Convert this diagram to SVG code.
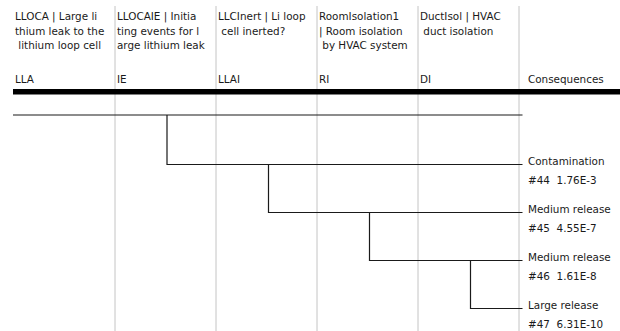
<svg xmlns="http://www.w3.org/2000/svg" width="620" height="331" viewBox="0 0 620 331">
<style>
text{font-family:"DejaVu Sans",sans-serif;font-size:10.4px;fill:#1a1a1a;white-space:pre}
.grid{stroke:#c4c4c4;stroke-width:1;fill:none}
.br{stroke:#1a1a1a;stroke-width:1.2;fill:none}
</style>
<rect width="620" height="331" fill="#ffffff"/>
<g id="grid">
<line class="grid" x1="115" y1="6" x2="115" y2="331"/>
<line class="grid" x1="216" y1="6" x2="216" y2="331"/>
<line class="grid" x1="317" y1="6" x2="317" y2="331"/>
<line class="grid" x1="418" y1="6" x2="418" y2="331"/>
<line class="grid" x1="519" y1="6" x2="519" y2="331"/>
</g>
<g id="headers">
<g id="col-LLA">
<text x="15" y="20">LLOCA | Large li</text>
<text x="15" y="34.5">thium leak to the</text>
<text x="15" y="49"> lithium loop cell</text>
<text x="15" y="83">LLA</text>
</g>
<g id="col-IE">
<text x="117" y="20">LLOCAIE | Initia</text>
<text x="117" y="34.5">ting events for l</text>
<text x="117" y="49">arge lithium leak</text>
<text x="117" y="83">IE</text>
</g>
<g id="col-LLAI">
<text x="218" y="20">LLCInert | Li loop</text>
<text x="218" y="34.5"> cell inerted?</text>
<text x="218" y="83">LLAI</text>
</g>
<g id="col-RI">
<text x="319" y="20">RoomIsolation1</text>
<text x="319" y="34.5">| Room isolation</text>
<text x="319" y="49"> by HVAC system</text>
<text x="319" y="83">RI</text>
</g>
<g id="col-DI">
<text x="420" y="20">DuctIsol | HVAC</text>
<text x="420" y="34.5"> duct isolation</text>
<text x="420" y="83">DI</text>
</g>
<g id="col-cons">
<text x="528" y="83">Consequences</text>
</g>
</g>
<rect x="13" y="89" width="607" height="5.5" fill="#000"/>
<g id="connectors">
<polyline class="br" points="13,115 522.5,115"/>
<polyline class="br" points="167,115 167,164.5 522.5,164.5"/>
<polyline class="br" points="268.5,164.5 268.5,212.5 522.5,212.5"/>
<polyline class="br" points="369.5,212.5 369.5,260.5 522.5,260.5"/>
<polyline class="br" points="470.5,260.5 470.5,308.5 522.5,308.5"/>
</g>
<g id="seq44">
<text x="528" y="165">Contamination</text>
<text x="528" y="183.5">#44  1.76E-3</text>
</g>
<g id="seq45">
<text x="528" y="213">Medium release</text>
<text x="528" y="231.5">#45  4.55E-7</text>
</g>
<g id="seq46">
<text x="528" y="261">Medium release</text>
<text x="528" y="279.5">#46  1.61E-8</text>
</g>
<g id="seq47">
<text x="528" y="309">Large release</text>
<text x="528" y="327.5">#47  6.31E-10</text>
</g>
</svg>
